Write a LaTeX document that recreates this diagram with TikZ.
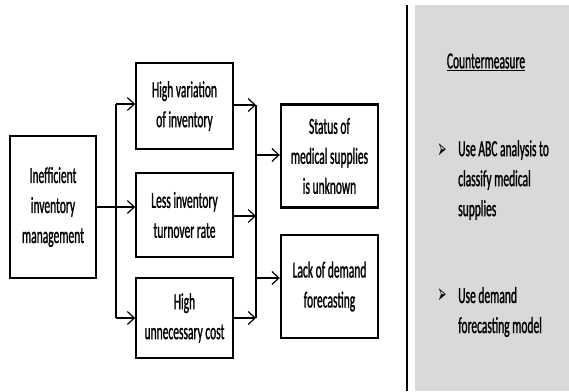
\documentclass[tikz,border=0pt]{standalone}
\usepackage{fontspec}
\setmainfont{Carlito}[FakeStretch=0.5,FakeBold=1]
\newfontfamily\markfont{DejaVu Sans}
\usetikzlibrary{arrows.meta,positioning,calc}
\usepackage{xcolor}
\definecolor{panelgray}{RGB}{217,217,217}

\tikzset{
    txt/.style={font=\fontsize{23}{30}\selectfont},
    box/.style={draw, line width=1.6pt, align=center, inner sep=0pt, txt},
    resbox/.style={box, line width=2.4pt, minimum width=97, minimum height=103},
    link/.style={line width=1.2pt, -{Straight Barb[length=7pt,width=13pt,line width=1.2pt]}},
    markstyle/.style={inner sep=0pt, font=\markfont\fontsize{28}{28}\selectfont},
}

\begin{document}
\begin{tikzpicture}[x=1pt,y=-1pt]
    \useasboundingbox (0,0) rectangle (569,391);

    % Countermeasure panel
    \fill[panelgray] (415,5) rectangle (569,391);
    \draw[line width=2pt] (407,5) -- (407,391);

    % Cause
    \node[box, minimum width=86, minimum height=142] (ineff) at (53,207)
        {Inefficient\\inventory\\management};

    % Problems
    \node[box, minimum width=97, minimum height=86] (var) at (184.5,106)
        {High variation\\of inventory};
    \node[box, minimum width=97, minimum height=84] (turn) at (184.5,215)
        {Less inventory\\turnover rate};
    \node[box, minimum width=97, minimum height=80] (cost) at (184.5,318)
        {High\\unnecessary cost};

    % Results
    \node[resbox] (status) at (329.5,156)
        {Status of\\medical supplies\\is unknown};
    \node[resbox] (demand) at (329.5,286.5)
        {Lack of demand\\forecasting};

    % Branching
    \coordinate (split) at (116,207);
    \coordinate (join) at (256,216);
    \draw[line width=2pt] (ineff.east |- split) -- (split);
    \draw[line width=1.2pt] (split |- 0,104) -- (split |- 0,318);
    \draw[link] (split |- 0,104) -- (var.west |- 0,104);
    \draw[link] (split) -- (turn.west |- split);
    \draw[link] (split |- cost) -- (cost.west);

    \draw[line width=1.2pt] (join |- 0,105) -- (join |- cost);
    \draw[link] (var.east |- 0,105) -- (join |- 0,105);
    \draw[link] (turn.east |- join) -- (join);
    \draw[link] (cost.east) -- (join |- cost);
    \draw[link] (join |- 0,155) -- (status.west |- 0,155);
    \draw[link] (join |- 0,278) -- (demand.west |- 0,278);

    % Countermeasures
    \node[txt] (cmhead) at (486,62) {\underline{Countermeasure}};
    \node[markstyle] (mark1) at (442,151) {\scalebox{0.38}[1]{➢}};
    \node[txt, align=left, anchor=west, inner sep=0pt] (cm1) at (458,180)
        {Use ABC analysis to\\classify medical\\supplies};
    \node[markstyle] (mark2) at (442,296) {\scalebox{0.38}[1]{➢}};
    \node[txt, align=left, anchor=west, inner sep=0pt] (cm2) at (458,312)
        {Use demand\\forecasting model};
\end{tikzpicture}
\end{document}
